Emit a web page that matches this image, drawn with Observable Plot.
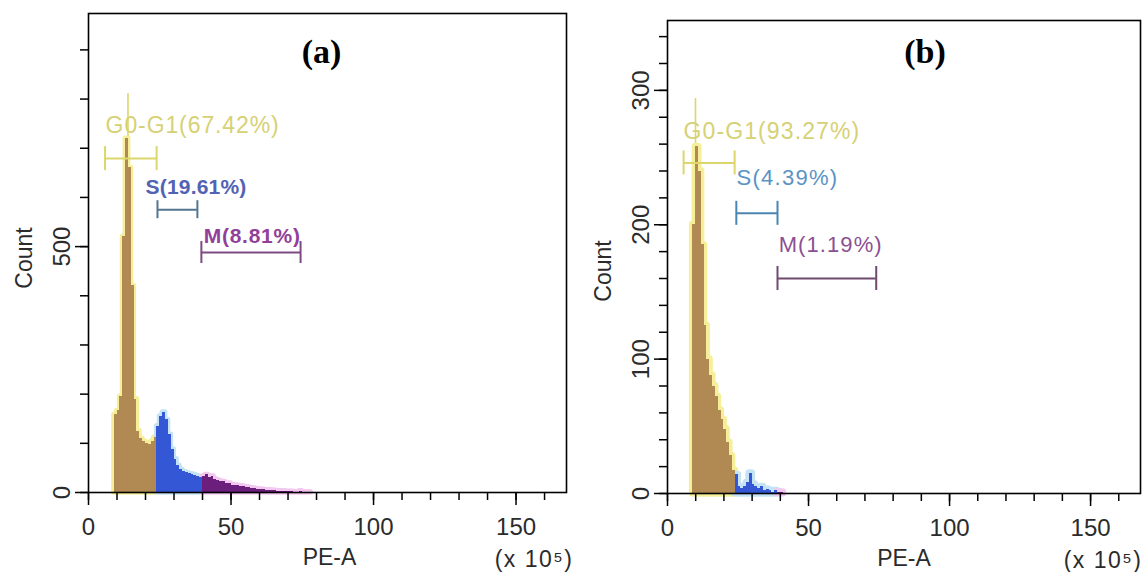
<!DOCTYPE html>
<html><head><meta charset="utf-8">
<script src="https://cdn.jsdelivr.net/npm/d3@7"></script>
<script src="https://cdn.jsdelivr.net/npm/@observablehq/plot@0.6"></script>
<style>
html,body{margin:0;padding:0;background:#fff;}
#wrap{position:relative;width:1144px;height:572px;overflow:hidden;background:#fff;}
#wrap > div{position:absolute;top:0;}
#pa{left:0;} #pb{left:572px;}
</style></head><body>
<div id="wrap"><div id="pa"></div><div id="pb"></div></div>
<script>
// ---------- data (PE-A in units of 10^5, counts) ----------
const binsA = [9,10,11,12,13,14,15,16,17,18,19,20,21,22,23,24,25,26,27,28,29,30,31,32,33,34,35,36,37,38,39,40,41,42,43,44,45,46,47,48,49,50,51,52,53,54,55,56,57,58,59,60,61,62,63,64,65,66,67,68,69,70,71,72,73,74,75,76,77];
const countsA = [158,166,195,520,720,660,420,190,125,110,104,100,98,104,112,135,155,163,148,118,88,68,55,47,42,40,38,37,35,33,31,33,36,31,33,27,25,23,22,18,19,15,15,14,13,12,11,10,9,8,7,6,6,5,5,4,4,3,3,3,2,2,2,1,1,3,1,1,1];
const binsB = [9,10,11,12,13,14,15,16,17,18,19,20,21,22,23,24,25,26,27,28,29,30,31,32,33,34,35,36,37,38,39,40];
const countsB = [200,258,240,185,125,100,88,80,72,62,55,48,38,28,17,14,5,4,5,8,15,7,5,4,5,2,3,2,1,2,1,1];

const gateLabelsA = ["G0-G1(67.42%)","S(19.61%)","M(8.81%)"];
const gateLabelsB = ["G0-G1(93.27%)","S(4.39%)","M(1.19%)"];
const gateLoA = [5.8, 24.2, 39.6], gateHiA = [23.9, 38.2, 74.4];
const gateLoB = [5.7, 24.4, 39.0], gateHiB = [23.8, 39.0, 74.0];
const gateLevelA = [679, 575, 488], labelLevelA = [746, 620, 522], labelXA = [6.0, 20.0, 40.4];
const gateLevelB = [246, 208.5, 160], labelLevelB = [269, 234.5, 184.7], labelXB = [5.7, 24.5, 39.4];
const peakA = {x: 13.85, top: 811};
const peakB = {x: 9.93, top: 294};

const xMajor = [0,50,100,150];
const xMinor = [0,10,20,30,40,50,60,70,80,90,100,110,120,130,140,150,160];
const yMajorA = [0,500];
const yMinorA = [0,100,200,300,400,500,600,700,800,900];
const yMajorB = [0,100,200,300];
const yMinorB = [0,20,40,60,80,100,120,140,160,180,200,220,240,260,280,300,320,340];
const unitLabel = "(x 10\u2075)";

// ---------- styles ----------
const fills = ["#b08a52","#3457d6","#6b1e7c"];
const halos = ["#f4ef98","#c4e4f6","#f3c8f0"];
const AX = "#2b2b2b";
const FONT = "Liberation Sans, Arial, DejaVu Sans, sans-serif";

function panel(o){
  const rows = o.bins.map((b,i)=>({x1:b, x2:b+1, y:o.counts[i],
    ph: b+0.5 < o.lo[1] ? 0 : (b+0.5 < o.lo[2] ? 1 : 2)}));
  const gates = o.labels.map((t,i)=>({t, i, lo:o.lo[i], hi:o.hi[i], lev:o.lev[i], tl:o.tlev[i], tx:o.tx[i]}));
  const marks = [
    Plot.ruleX([o.peak], {x:"x", y1:0, y2:"top", stroke:o.bcol[0], strokeWidth:1.6}),
    Plot.rectY(rows, {x1:"x1", x2:"x2", y:"y", fill:d=>halos[d.ph], stroke:d=>halos[d.ph], strokeWidth:o.haloW, strokeLinejoin:"round"}),
    Plot.rectY(rows, {x1:"x1", x2:"x2", y:"y", fill:d=>fills[d.ph], shapeRendering:"crispEdges"}),
    Plot.ruleY(gates, {x1:"lo", x2:"hi", y:"lev", stroke:d=>o.bcol[d.i], strokeWidth:2})
  ];
  gates.forEach(g=>{
    marks.push(Plot.ruleX([g.lo, g.hi], {x:d=>d, y1:g.lev, y2:g.lev, insetTop:-o.cap[g.i], insetBottom:-o.cap[g.i], stroke:o.bcol[g.i], strokeWidth:2}));
    marks.push(Plot.text([g], {x:"tx", y:"tl", text:"t", textAnchor:"start", lineAnchor:"middle",
      fill:o.lcol[g.i], fontSize:o.lsize[g.i], fontWeight:o.lweight[g.i], fontFamily:FONT}));
  });
  marks.push(
    Plot.frame({stroke:"#000", strokeWidth:1.6}),
    Plot.axisY(o.yMinor, {anchor:"left", tickSize:8, fill:"none", stroke:"#000", strokeWidth:1.5, label:null}),
    Plot.axisY(o.yMajor, {anchor:"left", tickSize:13, fill:"none", stroke:"#000", strokeWidth:1.5, label:null}),
    Plot.axisX(xMinor, {anchor:"bottom", tickSize:8, fill:"none", stroke:"#000", strokeWidth:1.5, label:null}),
    Plot.axisX(xMajor, {anchor:"bottom", tickSize:13, fill:"none", stroke:"#000", strokeWidth:1.5, label:null}),
    Plot.text(o.yMajor, {y:d=>d, text:d=>String(d), frameAnchor:"left", dx:-26, rotate:-90, textAnchor:"middle", lineAnchor:"middle", fontSize:24, fill:AX, fontFamily:FONT}),
    Plot.text(xMajor, {x:d=>d, text:d=>String(d), frameAnchor:"bottom", dy:35, textAnchor:"middle", lineAnchor:"middle", fontSize:24, fill:AX, fontFamily:FONT}),
    Plot.text(["Count"], {frameAnchor:"left", dx:-64, dy:o.countDy, rotate:-90, textAnchor:"middle", lineAnchor:"middle", fontSize:23, fill:AX, fontFamily:FONT}),
    Plot.text(["PE-A"], {frameAnchor:"bottom", dx:o.peDx, dy:65, textAnchor:"middle", lineAnchor:"middle", fontSize:23, fill:AX, fontFamily:FONT}),
    Plot.text([unitLabel], {frameAnchor:"bottom-right", dx:o.unitDx, dy:67, textAnchor:"end", lineAnchor:"middle", fontSize:23, fill:AX, fontFamily:FONT}),
    Plot.text([o.title], {frameAnchor:"top", dx:o.titleDx, dy:o.titleDy, textAnchor:"middle", lineAnchor:"middle", fontSize:34, fontWeight:"bold", fill:"#000", fontFamily:"Liberation Serif, Times New Roman, serif"})
  );
  const svg = Plot.plot({
    width:572, height:572,
    marginLeft:o.ml, marginRight:o.mr, marginTop:o.mt, marginBottom:o.mb,
    x:{domain:[0,o.xmax], axis:null},
    y:{domain:[0,o.ymax], axis:null},
    color:{type:"identity"},
    style:{fontFamily:FONT, background:"#fff", color:AX},
    marks
  });
  svg.querySelectorAll("text").forEach(t=>{
    const k = o.labels.indexOf(t.textContent);
    if (k >= 0) t.style.letterSpacing = o.lspace[k] + "px";
    if (t.textContent === unitLabel) t.style.letterSpacing = "1.5px";
  });
  return svg;
}

document.getElementById("pa").appendChild(panel({
  bins:binsA, counts:countsA, labels:gateLabelsA, lo:gateLoA, hi:gateHiA, lev:gateLevelA, tlev:labelLevelA, tx:labelXA,
  peak:peakA, yMajor:yMajorA, yMinor:yMinorA,
  ml:88, mr:6, mt:13, mb:80, xmax:167.7, ymax:974,
  bcol:["#dcd66c","#53758f","#7e4a82"], lcol:["#d6d175","#5262b4","#923f9a"],
  lsize:[23,21,21], lweight:["normal","bold","bold"], lspace:[0.9,0.2,0.75], cap:[12,9,11], haloW:5,
  countDy:5, peDx:2, unitDx:7, title:"(a)", titleDx:-6, titleDy:39
}));
document.getElementById("pb").appendChild(panel({
  bins:binsB, counts:countsB, labels:gateLabelsB, lo:gateLoB, hi:gateHiB, lev:gateLevelB, tlev:labelLevelB, tx:labelXB,
  peak:peakB, yMajor:yMajorB, yMinor:yMinorB,
  ml:95, mr:4, mt:20, mb:79, xmax:167.7, ymax:352,
  bcol:["#dcd66c","#4a86b0","#70496f"], lcol:["#d6d175","#5a93c4","#8c4f93"],
  lsize:[23,22,22], lweight:["normal","normal","normal"], lspace:[1.1,1.25,1.1], cap:[12,12,12], haloW:7,
  countDy:14, peDx:0, unitDx:2, title:"(b)", titleDx:21, titleDy:32
}));
</script>
</body></html>
